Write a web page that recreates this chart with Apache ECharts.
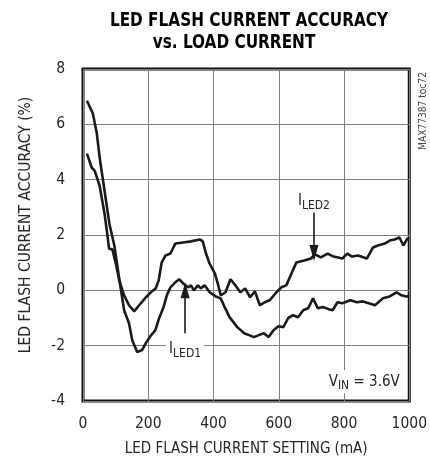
<!DOCTYPE html>
<html>
<head>
<meta charset="utf-8">
<script src="https://cdn.jsdelivr.net/npm/echarts@6/dist/echarts.min.js"></script>
<style>
html,body{margin:0;padding:0;background:#fff;}
#chart{width:430px;height:464px;}
</style>
</head>
<body>
<div id="chart"></div>
<script>
// ---- data (x: mA, y: %) ----
const titleLines = ['LED FLASH CURRENT ACCURACY', 'vs. LOAD CURRENT'];
const xAxisName = 'LED FLASH CURRENT SETTING (mA)';
const yAxisName = 'LED FLASH CURRENT ACCURACY (%)';
const xRange = [0, 1000, 200];
const yRange = [-4, 8, 2];

const iled1 = [
  [12,6.85],[30,6.4],[42,5.7],[51,4.8],[66,3.6],[81,2.4],[96,1.62],[110,0.5],[126,-0.72],
  [141,-1.19],[151,-1.8],[166,-2.23],[181,-2.16],[193,-1.9],[207,-1.65],[222,-1.44],[232,-1.05],
  [247,-0.6],[258,-0.15],[268,0.11],[283,0.29],[295,0.40],[307,0.25],[322,0.11],[331,0.18],
  [340,0.0],[352,0.18],[361,0.07],[373,0.18],[388,-0.07],[407,-0.22],[422,-0.29],[434,-0.6],
  [449,-0.97],[473,-1.33],[494,-1.55],[509,-1.62],[524,-1.69],[539,-1.62],[554,-1.55],[569,-1.69],
  [584,-1.44],[599,-1.3],[614,-1.33],[629,-1.0],[644,-0.9],[659,-0.97],[675,-0.72],[690,-0.65],
  [705,-0.29],[720,-0.65],[735,-0.6],[753,-0.68],[765,-0.72],[780,-0.43],[795,-0.47],[819,-0.36],
  [840,-0.43],[858,-0.4],[876,-0.47],[895,-0.54],[919,-0.29],[940,-0.22],[961,-0.07],[976,-0.18],
  [991,-0.22],[1000,-0.2]
];
const iled2 = [
  [12,4.94],[27,4.43],[36,4.32],[42,4.32],[51,3.78],[66,2.77],[75,1.98],[80,1.5],[90,1.48],
  [102,0.9],[111,0.36],[126,-0.18],[141,-0.54],[157,-0.76],[172,-0.54],[193,-0.25],[211,-0.04],
  [223,0.07],[232,0.36],[241,1.0],[253,1.26],[268,1.33],[283,1.69],[307,1.73],[331,1.77],
  [358,1.84],[367,1.77],[377,1.33],[388,0.97],[404,0.61],[413,0.25],[422,-0.18],[437,-0.07],
  [452,0.4],[467,0.18],[482,-0.07],[497,0.07],[512,-0.25],[527,-0.04],[542,-0.54],[557,-0.43],
  [572,-0.36],[593,-0.07],[608,0.11],[623,0.18],[639,0.61],[654,1.01],[678,1.08],[699,1.15],
  [711,1.3],[729,1.19],[750,1.33],[768,1.22],[795,1.15],[810,1.33],[825,1.22],[843,1.26],
  [870,1.15],[889,1.55],[904,1.62],[925,1.69],[940,1.8],[955,1.84],[970,1.91],[982,1.62],
  [994,1.87],[1000,1.85]
];
// annotation anchors (data coords)
const iled1Label = [313, -2.12];
const iled1Arrow = [[313, -1.55], [313, 0.0]];
const iled2Label = [708, 3.22];
const iled2Arrow = [[708, 2.95], [708, 1.35]];
const vinLabel = [862, -3.3];

const FONT = "'DejaVu Sans Condensed','DejaVu Sans',sans-serif";
const INK = '#1a1a1a';
const TXT = '#262626';

function pointLabel(coord, fmt) {
  return {
    coord: coord,
    symbol: 'rect',
    symbolSize: 1,
    itemStyle: { color: 'rgba(0,0,0,0)' },
    label: {
      show: true,
      position: 'inside',
      formatter: fmt,
      backgroundColor: '#fff',
      padding: [1, 3, 1, 3],
      color: TXT,
      rich: {
        m: { fontFamily: FONT, fontSize: 15, color: TXT, verticalAlign: 'bottom', lineHeight: 21, padding: [0, 0, 3, 0] },
        s: { fontFamily: FONT, fontSize: 12, color: TXT, verticalAlign: 'bottom', lineHeight: 21 }
      }
    }
  };
}

const arrowStyle = {
  silent: true,
  symbol: ['none', 'triangle'],
  symbolSize: [9, 16],
  lineStyle: { color: INK, width: 1.6, type: 'solid' },
  itemStyle: { color: INK },
  label: { show: false },
  emphasis: { disabled: true },
  animation: false
};

const titleStyle = {
  font: "bold 20px " + FONT, fill: '#000',
  textAlign: 'center', align: 'center', textVerticalAlign: 'middle', verticalAlign: 'middle'
};

const chart = echarts.init(document.getElementById('chart'), null, { renderer: 'canvas' });
chart.setOption({
  animation: false,
  backgroundColor: '#fff',
  graphic: [
    { type: 'text', x: 249, y: 21, scaleX: 0.85, z: 10, style: Object.assign({ text: titleLines[0] }, titleStyle) },
    { type: 'text', x: 234, y: 43, scaleX: 0.85, z: 10, style: Object.assign({ text: titleLines[1] }, titleStyle) },
    { type: 'text', x: 423, y: 111, rotation: Math.PI / 2, scaleX: 0.92, z: 10,
      style: { text: 'MAX77387 toc72', font: "11px " + FONT, fill: '#444', textAlign: 'center', align: 'center', textVerticalAlign: 'middle', verticalAlign: 'middle' } }
  ],
  grid: {
    left: 83, right: 15, top: 69, bottom: 63,
    show: true, borderColor: '#111', borderWidth: 3, backgroundColor: 'transparent'
  },
  xAxis: {
    type: 'value', min: xRange[0], max: xRange[1], interval: xRange[2],
    name: xAxisName, nameLocation: 'middle', nameGap: 41,
    nameTextStyle: { fontFamily: FONT, fontSize: 15, color: TXT },
    axisLine: { show: false }, axisTick: { show: false },
    axisLabel: { margin: 15, fontFamily: FONT, fontSize: 15.5, color: TXT, formatter: function (v) { return String(v); } },
    splitLine: { show: true, lineStyle: { color: '#808080', width: 1 } }
  },
  yAxis: {
    type: 'value', min: yRange[0], max: yRange[1], interval: yRange[2],
    name: yAxisName, nameLocation: 'middle', nameGap: 49,
    nameTextStyle: { fontFamily: FONT, fontSize: 15.5, color: TXT, padding: [0, 0, 0, 20] },
    axisLine: { show: false }, axisTick: { show: false },
    axisLabel: { margin: 18, fontFamily: FONT, fontSize: 15.5, color: TXT },
    splitLine: { show: true, lineStyle: { color: '#808080', width: 1 } }
  },
  series: [
    {
      name: 'ILED1', type: 'line', data: iled1, showSymbol: false, symbol: 'none',
      lineStyle: { color: INK, width: 2.6 }, z: 3,
      markLine: Object.assign({ data: [[{ coord: iled1Arrow[0] }, { coord: iled1Arrow[1] }]] }, arrowStyle),
      markPoint: {
        silent: true, animation: false,
        data: [
          pointLabel(iled1Label, '{m|I}{s|LED1}'),
          pointLabel(vinLabel, '{m|V}{s|IN}{m| = 3.6V}')
        ]
      }
    },
    {
      name: 'ILED2', type: 'line', data: iled2, showSymbol: false, symbol: 'none',
      lineStyle: { color: INK, width: 2.6 }, z: 3,
      markLine: Object.assign({ data: [[{ coord: iled2Arrow[0] }, { coord: iled2Arrow[1] }]] }, arrowStyle),
      markPoint: {
        silent: true, animation: false,
        data: [ pointLabel(iled2Label, '{m|I}{s|LED2}') ]
      }
    }
  ]
});
</script>
</body>
</html>
